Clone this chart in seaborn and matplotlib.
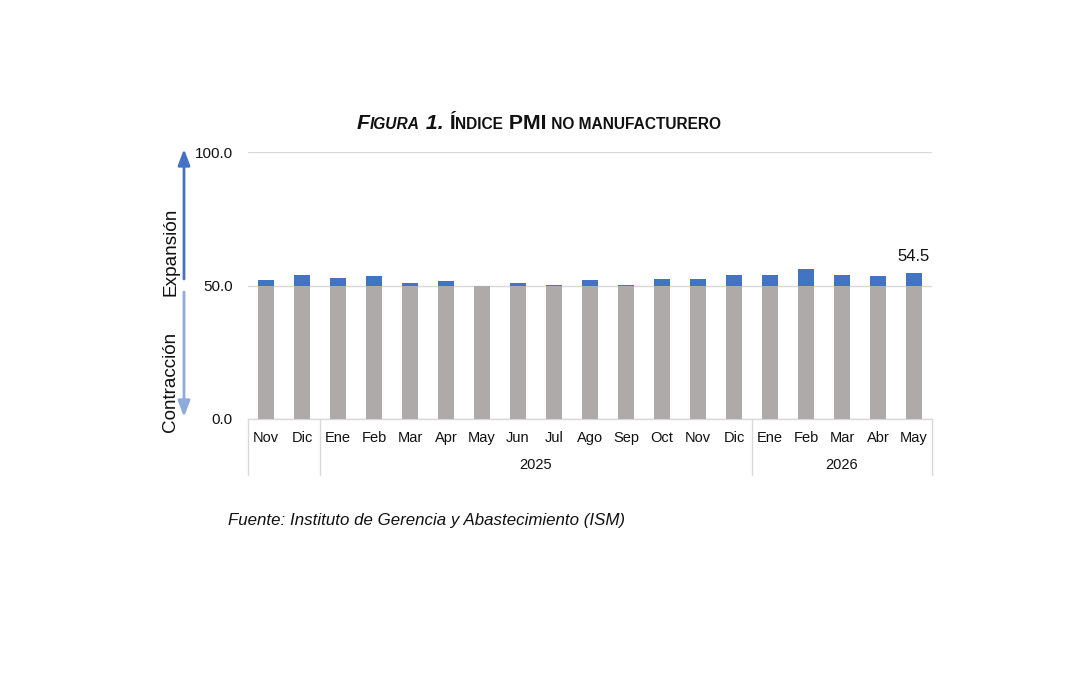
import matplotlib
matplotlib.use("Agg")
import matplotlib.pyplot as plt
import seaborn as sns
import pandas as pd
import numpy as np

sns.set_theme(style="white")
plt.rcParams['font.family'] = ['Liberation Sans', 'DejaVu Sans']

months = ["Nov", "Dic", "Ene", "Feb", "Mar", "Apr", "May", "Jun", "Jul", "Ago",
          "Sep", "Oct", "Nov", "Dic", "Ene", "Feb", "Mar", "Abr", "May"]
years = ["2024", "2024", "2025", "2025", "2025", "2025", "2025", "2025", "2025", "2025",
         "2025", "2025", "2025", "2025", "2026", "2026", "2026", "2026", "2026"]
values = [52.1, 54.1, 52.9, 53.4, 50.9, 51.6, 49.9, 50.8, 50.1, 52.0,
          50.3, 52.4, 52.6, 53.8, 53.8, 56.1, 54.1, 53.6, 54.5]
year_groups = [("", 0, 1), ("2025", 2, 13), ("2026", 14, 18)]
threshold = 50.0

GRAY = "#AEAAAA"
BLUE = "#4472C4"
LIGHTBLUE = "#8FAADC"
GRID = "#D9D9D9"
TXT = "#111111"

df = pd.DataFrame({
    "key": [f"{m}-{y}" for m, y in zip(months, years)],
    "total": values,
})
df["base"] = np.minimum(df["total"], threshold)

W, H = 1080, 675
fig = plt.figure(figsize=(W / 100, H / 100), dpi=100)
fig.patch.set_facecolor("white")
ax = fig.add_axes([248 / W, 1 - 419 / H, (932 - 248) / W, (419 - 152) / H])

order = list(df["key"])
sns.barplot(data=df, x="key", y="total", order=order, color=BLUE, width=0.42,
            saturation=1, linewidth=0, ax=ax, zorder=3)
sns.barplot(data=df, x="key", y="base", order=order, color=GRAY, width=0.42,
            saturation=1, linewidth=0, ax=ax, zorder=4)

ax.set_xlim(-0.5, len(months) - 0.5)
ax.set_ylim(0, 100)
ax.set_yticks([0, 50, 100])
ax.set_yticklabels(["0.0", "50.0", "100.0"], fontsize=11, color=TXT)
ax.set_xticks(range(len(months)))
ax.set_xticklabels(months, fontsize=10.5, color=TXT)
ax.tick_params(axis="x", length=0, pad=8.5)
ax.tick_params(axis="y", length=0, pad=10.8)
ax.set_xlabel("")
ax.set_ylabel("")
for s in ["top", "right", "left"]:
    ax.spines[s].set_visible(False)
ax.spines["bottom"].set_color(GRID)
ax.spines["bottom"].set_linewidth(1)
ax.yaxis.grid(True, color=GRID, linewidth=1, zorder=0)
ax.set_axisbelow(True)

# multi-level category axis
trans = ax.get_xaxis_transform()
bounds = [-0.5, 1.5, 13.5, len(months) - 0.5]
for b in bounds:
    ax.plot([b, b], [0, -0.21], transform=trans, color=GRID, linewidth=1,
            clip_on=False)
for name, i0, i1 in year_groups:
    if name:
        ax.text((i0 + i1) / 2, -0.172, name, transform=trans, ha="center",
                va="center", fontsize=10.5, color=TXT)

# value label for last bar
ax.annotate(f"{values[-1]:.1f}", xy=(len(values) - 1, values[-1]), xytext=(0, 7),
            textcoords="offset points", ha="center", va="bottom", fontsize=12,
            color=TXT)


def fy(y):
    return H - y


# arrows
ax.annotate("", xy=(184, fy(149)), xytext=(184, fy(279)),
            xycoords="figure pixels", textcoords="figure pixels",
            arrowprops=dict(arrowstyle="-|>,head_width=0.3,head_length=0.8",
                            color=BLUE, lw=2, shrinkA=0, shrinkB=0),
            annotation_clip=False)
ax.annotate("", xy=(184, fy(417)), xytext=(184, fy(292)),
            xycoords="figure pixels", textcoords="figure pixels",
            arrowprops=dict(arrowstyle="-|>,head_width=0.3,head_length=0.8",
                            color=LIGHTBLUE, lw=2, shrinkA=0, shrinkB=0),
            annotation_clip=False)
fig.text(171 / W, fy(252) / H, "Expansión", rotation=90, ha="center", va="center",
         fontsize=13.7, color=TXT)
fig.text(171 / W, fy(382) / H, "Contracción", rotation=90, ha="center", va="center",
         fontsize=13.6, color=TXT)

# title with small caps, pieces laid out left to right
pieces = [
    ("F", 15.3, "italic"), ("IGURA", 11.2, "italic"), (" 1.", 15.3, "italic"),
    (" Í", 15.3, "normal"), ("NDICE", 11.2, "normal"), (" PMI", 15.3, "normal"),
    (" NO MANUFACTURERO", 11.2, "normal"),
]
fig.canvas.draw()
renderer = fig.canvas.get_renderer()
x_px = 357
for s, size, style in pieces:
    t = fig.text(x_px / W, fy(129) / H, s, fontsize=size, fontstyle=style,
                 fontweight="bold", ha="left", va="baseline", color=TXT)
    bb = t.get_window_extent(renderer=renderer)
    x_px = bb.x1

fig.text(228 / W, fy(521) / H, "Fuente: Instituto de Gerencia y Abastecimiento (ISM)",
         fontsize=12.2, fontstyle="italic", ha="left", va="center", color=TXT)

fig.savefig("out.png", dpi=100, facecolor="white")
